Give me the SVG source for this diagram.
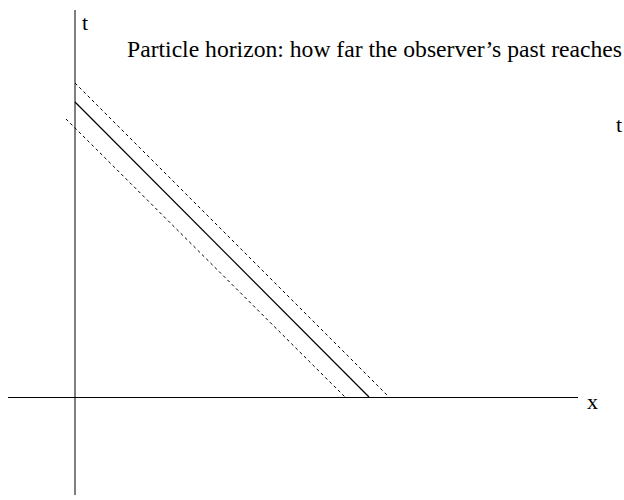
<svg xmlns="http://www.w3.org/2000/svg" width="624" height="500" viewBox="0 0 624 500">
<style>
.ax{stroke:#000;stroke-width:1;fill:none}
.sol{stroke:#000;stroke-width:1.2;fill:none}
.dash{stroke:#000;stroke-width:1;fill:none;stroke-dasharray:3,3}
text{font-family:"Liberation Serif","Times New Roman",serif;fill:#000}
</style>
<rect width="624" height="500" fill="#fff"/>
<g id="axes">
<line class="ax" x1="75" y1="10" x2="75" y2="495"/>
<line class="ax" x1="8" y1="397.5" x2="578" y2="397.5"/>
</g>
<g id="labels">
<text x="82" y="30" font-size="22">t</text>
<text x="587" y="409" font-size="22">x</text>
<text x="616" y="132" font-size="22">t</text>
<text x="127" y="57" font-size="23.5" textLength="495" lengthAdjust="spacingAndGlyphs">Particle horizon: how far the observer’s past reaches</text>
</g>
<g id="connectors">
<line class="sol" x1="75" y1="102" x2="369" y2="397"/>
<line class="dash" x1="75" y1="83" x2="389" y2="397"/>
<line class="dash" x1="66" y1="119" x2="345" y2="397"/>
</g>
</svg>
